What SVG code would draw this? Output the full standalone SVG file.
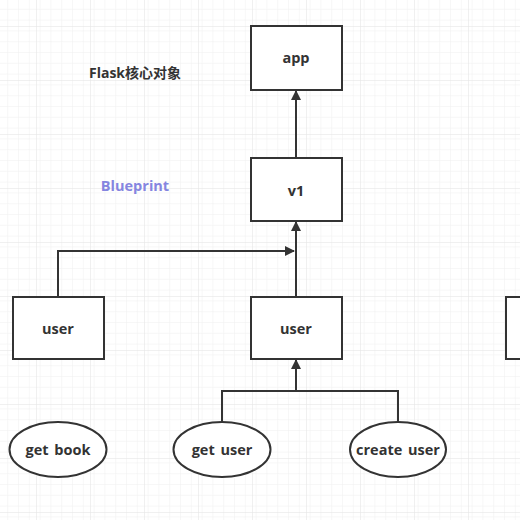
<svg xmlns="http://www.w3.org/2000/svg" width="520" height="520" viewBox="0 0 520 520">
<style>
.box{fill:#fff;stroke:#333;stroke-width:2}
.lbl{font-family:"Open Sans","Noto Sans CJK SC",sans-serif;font-weight:700;font-size:14.5px;fill:#333;text-anchor:middle;word-spacing:2px}
.conn{fill:none;stroke:#333;stroke-width:2}
</style>
<defs>
<pattern id="minor" x="36" y="26" width="10.8" height="10.8" patternUnits="userSpaceOnUse">
<path d="M0 0H10.8M0 0V10.8" fill="none" stroke="#efefef" stroke-width="1"/>
</pattern>
<pattern id="major" x="36" y="26" width="54" height="54" patternUnits="userSpaceOnUse">
<rect width="54" height="54" fill="url(#minor)"/>
<path d="M0 0H54M0 0V54" fill="none" stroke="#e2e2e2" stroke-width="1"/>
</pattern>
<marker id="arr" viewBox="0 0 10 10" refX="9" refY="5" markerWidth="5" markerHeight="5" orient="auto">
<path d="M0 0L10 5L0 10z" fill="#333"/>
</marker>
</defs>
<rect width="520" height="520" fill="#fff"/>
<rect width="520" height="520" fill="url(#major)"/>
<text class="lbl" x="135" y="78" style="font-size:14px">Flask核心对象</text>
<text class="lbl" x="135" y="191" style="fill:#8585e0;font-size:14.5px">Blueprint</text>
<g id="connectors">
<path class="conn" d="M296 158V91" marker-end="url(#arr)"/>
<path class="conn" d="M296 297V222" marker-end="url(#arr)"/>
<path class="conn" d="M58 297V251H294" marker-end="url(#arr)"/>
<path class="conn" d="M296 391V360" marker-end="url(#arr)"/>
<path class="conn" d="M222 422V391H398V422"/>
</g>
<g id="app"><rect class="box" x="251" y="26" width="91" height="64"/><text class="lbl" x="296" y="63">app</text></g>
<g id="v1"><rect class="box" x="251" y="158" width="91" height="63"/><text class="lbl" x="296" y="196">v1</text></g>
<g id="user-left"><rect class="box" x="13" y="297" width="91" height="62"/><text class="lbl" x="58" y="334">user</text></g>
<g id="user-mid"><rect class="box" x="251" y="297" width="91" height="62"/><text class="lbl" x="296" y="334">user</text></g>
<g id="user-right"><rect class="box" x="506" y="297" width="40" height="62"/></g>
<g id="get-book"><ellipse class="box" cx="58" cy="449.5" rx="48.5" ry="27.5"/><text class="lbl" x="58" y="455">get book</text></g>
<g id="get-user"><ellipse class="box" cx="222" cy="449.5" rx="48.5" ry="27.5"/><text class="lbl" x="222" y="455">get user</text></g>
<g id="create-user"><ellipse class="box" cx="398" cy="449.5" rx="48" ry="27.5"/><text class="lbl" x="398" y="455">create user</text></g>
</svg>
